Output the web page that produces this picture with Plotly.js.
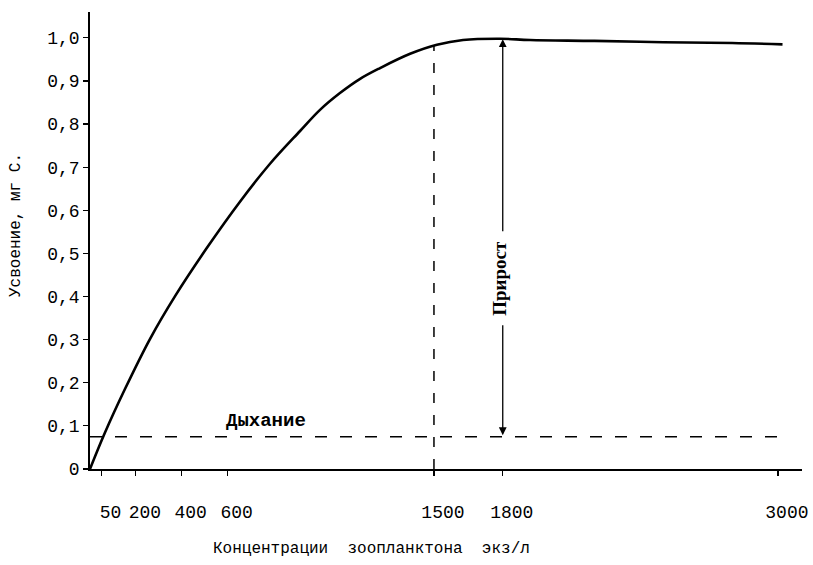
<!DOCTYPE html>
<html>
<head>
<meta charset="utf-8">
<script src="https://cdn.plot.ly/plotly-3.0.1.min.js"></script>
<style>html,body{margin:0;padding:0;background:#fff;}#chart{width:813px;height:565px;}</style>
</head>
<body>
<div id="chart"></div>
<script>
// Concentration of zooplankton (ind./l) and assimilation (mg C)
const concentration = [0, 65, 153, 262, 371, 510, 654, 785, 916, 1003, 1090, 1178, 1265, 1396, 1513, 1627, 1788, 1919, 2200, 2500, 2800, 3020];
const assimilation  = [0, 0.084, 0.186, 0.302, 0.401, 0.513, 0.62, 0.708, 0.784, 0.833, 0.872, 0.905, 0.93, 0.963, 0.984, 0.995, 0.998, 0.995, 0.993, 0.99, 0.988, 0.985];

const respirationX = [0, 3020];
const respirationLevel = 0.075;

const optimumX = 1500;
const optimumY = 0.983;
const growthX = 1800;
const growthTop = 0.997;

const xTickVals = [50, 200, 400, 600, 1500, 1800, 3000];
const xTickText = ["50", "200", "400", "600", "1500", "1800", "3000"];
const yTickVals = [0, 0.1, 0.2, 0.3, 0.4, 0.5, 0.6, 0.7, 0.8, 0.9, 1.0];
const yTickText = ["0", "0,1", "0,2", "0,3", "0,4", "0,5", "0,6", "0,7", "0,8", "0,9", "1,0"];

const xTitle = "Концентрации  зоопланктона  экз/л";
const yTitle = "Усвоение, мг С.";
const respLabel = "Дыхание";
const growthLabel = "Прирост";

const mono = "Liberation Mono, Courier New, monospace";

const traces = [
  {
    x: concentration, y: assimilation, mode: "lines", type: "scatter",
    line: {color: "#000", width: 2.6, shape: "spline", smoothing: 1},
    hoverinfo: "skip", showlegend: false
  },
  {
    x: respirationX, y: respirationX.map(() => respirationLevel), mode: "lines", type: "scatter",
    line: {color: "#000", width: 1.5, dash: "12px,13px"},
    hoverinfo: "skip", showlegend: false
  },
  {
    x: [optimumX, optimumX], y: [0, optimumY], mode: "lines", type: "scatter",
    line: {color: "#000", width: 1.5, dash: "10px,12px"},
    hoverinfo: "skip", showlegend: false
  }
];

const layout = {
  width: 813, height: 565,
  margin: {l: 90, r: 11, t: 12, b: 96},
  paper_bgcolor: "#fff", plot_bgcolor: "#fff",
  showlegend: false,
  font: {family: mono, color: "#000"},
  xaxis: {
    range: [0, 3105], showgrid: false, zeroline: false,
    showline: true, linecolor: "#000", linewidth: 1.8,
    ticks: "outside", ticklen: 5, tickwidth: 1.2, tickcolor: "#000",
    tickmode: "array", tickvals: xTickVals, ticktext: xTickText,
    tickfont: {family: mono, size: 18, color: "#000"},
    ticklabelstandoff: 21, ticklabelshift: 9
  },
  yaxis: {
    range: [0, 1.06], showgrid: false, zeroline: false,
    showline: true, linecolor: "#000", linewidth: 1.8,
    ticks: "outside", ticklen: 5, tickwidth: 1.2, tickcolor: "#000",
    tickmode: "array", tickvals: yTickVals, ticktext: yTickText,
    tickfont: {family: mono, size: 18, color: "#000"}
  },
  annotations: [
    {
      x: growthX, y: growthTop, ax: growthX, ay: respirationLevel,
      xref: "x", yref: "y", axref: "x", ayref: "y",
      text: "", showarrow: true, arrowhead: 2, arrowside: "end+start",
      arrowsize: 1.2, arrowwidth: 1.3, arrowcolor: "#000"
    },
    {
      x: growthX, y: 0.443, xref: "x", yref: "y", xshift: -4,
      text: growthLabel, showarrow: false, textangle: -90,
      font: {family: "Liberation Serif, serif", size: 19, color: "#000", weight: "bold"},
      bgcolor: "#fff", borderpad: 9
    },
    {
      x: 768, y: respirationLevel, xref: "x", yref: "y", yshift: 16,
      text: respLabel, showarrow: false,
      font: {family: mono, size: 19, color: "#000", weight: "bold"}
    },
    {
      x: 371, y: 549, xref: "paper", yref: "paper", showarrow: false,
      text: xTitle, xanchor: "center", yanchor: "middle",
      font: {family: mono, size: 16, color: "#000"}
    },
    {
      x: 16, y: 225, xref: "paper", yref: "paper", showarrow: false,
      text: yTitle, textangle: -90, xanchor: "center", yanchor: "middle",
      font: {family: mono, size: 16, color: "#000"}
    }
  ]
};

// convert pixel-placed titles into paper coords
const pw = 813 - 90 - 11, ph = 565 - 12 - 96;
layout.annotations[3].x = (371 - 90) / pw;
layout.annotations[3].y = (565 - 96 - 549) / ph;
layout.annotations[4].x = (16 - 90) / pw;
layout.annotations[4].y = (565 - 96 - 225) / ph;

Plotly.newPlot("chart", traces, layout, {displayModeBar: false, staticPlot: true});
</script>
</body>
</html>
